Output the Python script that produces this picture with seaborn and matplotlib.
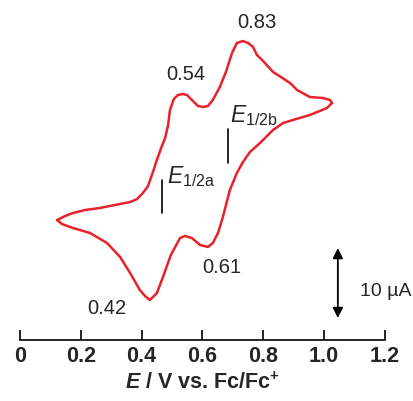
import matplotlib
matplotlib.use("Agg")
import matplotlib.pyplot as plt
import seaborn as sns
import pandas as pd

# Cyclic voltammogram (potential in V vs Fc/Fc+, current in microamps)
potential = [0.122, 0.148, 0.174, 0.214, 0.263, 0.312, 0.362, 0.385, 0.404, 0.421,
             0.437, 0.450, 0.464, 0.477, 0.487, 0.493, 0.506, 0.519, 0.536, 0.549,
             0.565, 0.585, 0.602, 0.618, 0.634, 0.657, 0.677, 0.697, 0.713, 0.733,
             0.750, 0.766, 0.779, 0.796, 0.832, 0.888, 0.911, 0.953, 0.996, 1.019,
             1.026,
             1.009, 0.953, 0.897, 0.865, 0.832, 0.789, 0.756, 0.733, 0.713, 0.690,
             0.667, 0.651, 0.634, 0.618, 0.592, 0.565, 0.542, 0.526, 0.496, 0.483,
             0.470, 0.450, 0.427, 0.411, 0.394, 0.362, 0.329, 0.286, 0.230, 0.174,
             0.138, 0.122]
current = [-2.86, -2.29, -1.86, -1.43, -1.14, -0.71, -0.29, 0.14, 1.00, 2.00,
           4.00, 5.71, 7.43, 8.86, 10.71, 12.86, 14.43, 15.00, 15.14, 15.00,
           14.29, 13.43, 13.29, 13.43, 14.29, 16.14, 18.29, 21.00, 22.43, 22.71,
           22.43, 21.86, 20.71, 20.00, 18.29, 16.71, 15.71, 14.71, 14.57, 14.29,
           13.86,
           13.14, 12.14, 11.43, 11.00, 10.00, 8.14, 6.86, 5.43, 3.86, 1.43,
           -2.43, -4.71, -6.14, -6.71, -6.43, -5.43, -5.14, -5.43, -7.86, -9.43,
           -11.00, -13.29, -14.29, -13.71, -12.86, -10.43, -8.14, -6.14, -4.71, -4.00,
           -3.43, -2.86]

# Peak labels (text, x, y)
peak_text = ["0.83", "0.54", "0.61", "0.42"]
peak_x = [0.779, 0.546, 0.664, 0.286]
peak_y = [25.29, 17.86, -9.71, -15.43]

# Half-wave potential markers
half_names = [r"$\mathit{E}_{\mathrm{1/2b}}$", r"$\mathit{E}_{\mathrm{1/2a}}$"]
half_pos = [0.684, 0.467]
half_lo = [5.29, -1.86]
half_hi = [10.14, 2.86]
half_lab_x = [0.690, 0.483]
half_lab_y = [11.14, 2.43]

# Scale bar (10 uA)
scale_x = 1.045
scale_lo = -16.86
scale_hi = -6.86
scale_text = "10 \u00b5A"

xticks = [0, 0.2, 0.4, 0.6, 0.8, 1.0, 1.2]
xticklabels = ["0", "0.2", "0.4", "0.6", "0.8", "1.0", "1.2"]

sns.set_theme(style="white")
plt.rcParams["font.family"] = ["Liberation Sans", "DejaVu Sans"]
plt.rcParams["mathtext.fontset"] = "custom"
plt.rcParams["mathtext.rm"] = "Liberation Sans"
plt.rcParams["mathtext.it"] = "Liberation Sans:italic"
plt.rcParams["mathtext.bf"] = "Liberation Sans:bold"
plt.rcParams["mathtext.bfit"] = "Liberation Sans:italic:bold"

df = pd.DataFrame({"E": potential, "I": current})

fig = plt.figure(figsize=(4.14, 4.01), dpi=100)
ax = fig.add_axes([20 / 414, 61 / 401, 365 / 414, 340 / 401])

sns.lineplot(data=df, x="E", y="I", sort=False, estimator=None, ax=ax,
             color="#e8222a", linewidth=1.8)

ax.set_xlim(0, 1.2)
ax.set_ylim(-20, 28.571)

for side in ["top", "left", "right"]:
    ax.spines[side].set_visible(False)
ax.spines["bottom"].set_color("black")
ax.spines["bottom"].set_linewidth(1.2)
ax.set_yticks([])
ax.set_xticks(xticks)
ax.set_xticklabels(xticklabels, fontsize=15.5, fontweight="bold")
ax.tick_params(axis="x", direction="in", length=7, width=1.2, color="black",
               pad=4, bottom=True)
ax.set_ylabel("")
ax.set_xlabel(r"$\mathbfit{E}$ / V vs. Fc/Fc$^{\mathbf{+}}$", fontsize=15.5,
              fontweight="bold", labelpad=4)

for t, x, y in zip(peak_text, peak_x, peak_y):
    ax.text(x, y, t, fontsize=14.5, ha="center", va="center")

for name, xp, lo, hi, lx, ly in zip(half_names, half_pos, half_lo, half_hi,
                                    half_lab_x, half_lab_y):
    ax.plot([xp, xp], [lo, hi], color="black", lw=1.2)
    ax.text(lx, ly, name, fontsize=16.5, ha="left", va="baseline")

ax.annotate("", xy=(scale_x, scale_hi), xytext=(scale_x, scale_lo),
            arrowprops=dict(arrowstyle="<|-|>", color="black", lw=1.3,
                            mutation_scale=15, shrinkA=0, shrinkB=0))
ax.text(1.118, -13.14, scale_text, fontsize=14,
        ha="left", va="center", clip_on=False)

fig.savefig("out.png", dpi=100)
